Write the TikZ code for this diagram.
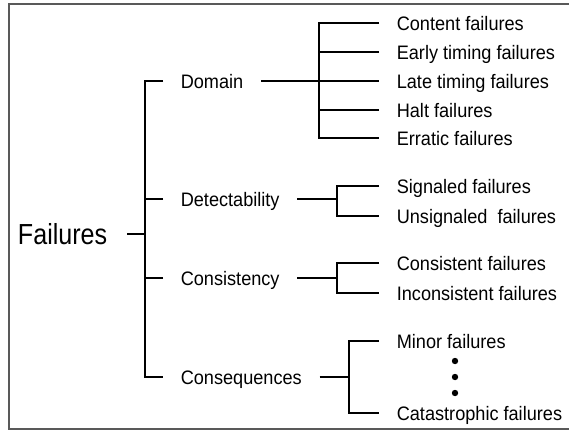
\documentclass[tikz,border=0pt]{standalone}
\usepackage{fontspec}
\setmainfont{Liberation Sans}[FakeStretch=0.93]
\usetikzlibrary{positioning}
\tikzset{
	group/.style={anchor=west, inner xsep=17pt, inner ysep=0pt, text height=14pt, text depth=0pt, font=\fontsize{19.5}{22}\selectfont},
	leaf/.style={group},
	root/.style={anchor=east, inner xsep=19pt, inner ysep=0pt, text height=20.8pt, text depth=0pt, font=\fontsize{29}{32}\selectfont}
}

\begin{document}
\begin{tikzpicture}[x=1pt, y=-1pt, line width=1.6pt]
		\useasboundingbox (0,0) rectangle (569,431);
		\draw [black!65, line width=1.4pt] (569,4)--(9,4)--(9,429)--(569,429);
		\node [root] (failures) at (127,234) {\scalebox{0.93}[1]{Failures}};
		\node [group] (domain) at (163,81) {Domain};
		\node [group] (detect) at (163,199) {Detectability};
		\node [group] (consist) at (163,278) {Consistency};
		\node [group] (conseq) at (163,377) {Consequences};
		\node [leaf] (content) at (379,23) {Content failures};
		\node [leaf] (early) at (379,52) {Early timing failures};
		\node [leaf] (late) at (379,81) {Late timing failures};
		\node [leaf] (halt) at (379,110) {Halt failures};
		\node [leaf] (erratic) at (379,138) {Erratic failures};
		\node [leaf] (signaled) at (379,186) {Signaled failures};
		\node [leaf] (unsignaled) at (379,216) {Unsignaled~ failures};
		\node [leaf] (consistent) at (379,263) {Consistent failures};
		\node [leaf] (inconsistent) at (379,293) {Inconsistent failures};
		\node [leaf] (minor) at (379,341) {Minor failures};
		\node [leaf] (catastrophic) at (379,413) {Catastrophic failures};
		\coordinate (main) at (145,0);
		\coordinate (jdom) at (319,0);
		\coordinate (jdet) at (337,0);
		\coordinate (jcon) at (337,0);
		\coordinate (jcsq) at (349,0);
		% root
		\draw (failures.east)--(failures.east -| main);
		\draw (domain.west)--(domain.west -| main) |- (conseq.west);
		\foreach \n in {detect, consist}{
			\draw (\n.west)--(\n.west -| main);
		}
		% domain
		\draw (domain.east)--(late.west);
		\draw (content.west)--(content.west -| jdom) |- (erratic.west);
		\foreach \n in {early, halt}{
			\draw (\n.west)--(\n.west -| jdom);
		}
		% detectability, consistency
		\draw (detect.east)--(detect.east -| jdet);
		\draw (signaled.west)--(signaled.west -| jdet) |- (unsignaled.west);
		\draw (consist.east)--(consist.east -| jcon);
		\draw (consistent.west)--(consistent.west -| jcon) |- (inconsistent.west);
		% consequences
		\draw (conseq.east)--(conseq.east -| jcsq);
		\draw (minor.west)--(minor.west -| jcsq) |- (catastrophic.west);
		\foreach \i in {361,377,393}{
			\fill (455,\i) circle (3.2pt);
		}
	\end{tikzpicture}
\end{document}
